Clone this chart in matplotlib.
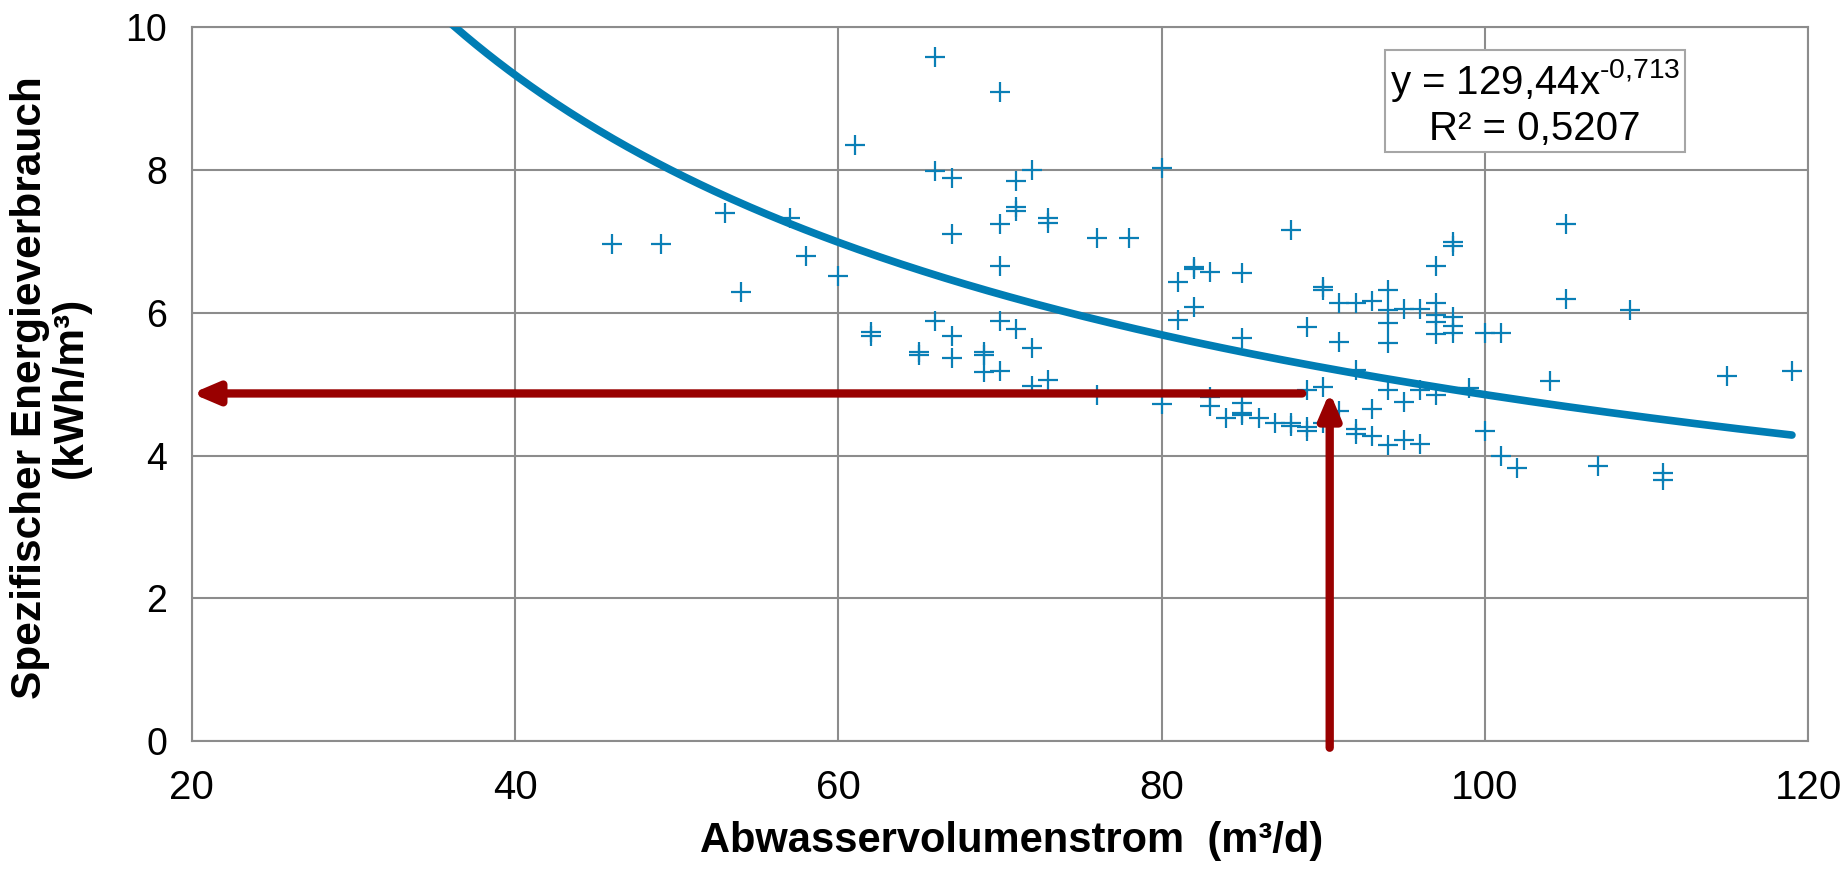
import numpy as np
import matplotlib
matplotlib.use("Agg")
import matplotlib.pyplot as plt

# Messpunkte: Abwasservolumenstrom (m3/d) und spezifischer Energieverbrauch (kWh/m3)
flow = [46, 49, 53, 54, 57, 58, 60, 61, 62, 62,
        65, 65, 66, 66, 66, 67, 67, 67, 67, 69,
        69, 69, 70, 70, 70, 70, 70, 71, 71, 71,
        71, 72, 72, 72, 73, 73, 73, 76, 76, 78,
        80, 80, 81, 81, 82, 82, 82, 83, 83, 83,
        84, 85, 85, 85, 85, 85, 86, 87, 88, 88,
        88, 89, 89, 89, 89, 90, 90, 90, 90, 91,
        91, 91, 92, 92, 92, 92, 93, 93, 93, 94,
        94, 94, 94, 94, 94, 95, 95, 95, 96, 96,
        96, 97, 97, 97, 97, 97, 97, 98, 98, 98,
        98, 98, 99, 100, 100, 101, 101, 102, 104, 105,
        105, 107, 109, 111, 111, 115, 119]
energy = [6.96, 6.96, 7.40, 6.29, 7.32, 6.79, 6.52, 8.35, 5.73, 5.67,
          5.45, 5.41, 9.58, 7.99, 5.89, 7.88, 7.10, 5.68, 5.37, 5.45,
          5.41, 5.17, 9.09, 7.24, 6.66, 5.89, 5.19, 7.85, 7.48, 7.43,
          5.77, 8.00, 5.50, 4.97, 7.32, 7.26, 5.06, 7.05, 4.85, 7.05,
          8.02, 4.72, 6.43, 5.90, 6.64, 6.61, 6.08, 6.57, 4.82, 4.69,
          4.53, 6.55, 5.65, 4.74, 4.59, 4.57, 4.53, 4.46, 7.16, 4.46,
          4.41, 5.80, 4.92, 4.40, 4.35, 6.36, 6.32, 4.96, 4.45, 6.13,
          5.59, 4.62, 6.14, 5.20, 4.37, 4.30, 6.17, 4.65, 4.27, 6.32,
          6.04, 5.86, 5.57, 4.92, 4.15, 6.05, 4.75, 4.22, 6.05, 4.92,
          4.16, 6.66, 6.14, 5.97, 5.87, 5.70, 4.85, 6.99, 6.94, 5.94,
          5.82, 5.71, 4.94, 5.72, 4.35, 5.71, 3.99, 3.82, 5.05, 7.24,
          6.19, 3.85, 6.04, 3.75, 3.66, 5.11, 5.19]

# Potenz-Trendlinie (aus Excel)
FIT_A = 129.44
FIT_B = -0.713
fit_x_end = 119

# Ablesepfeile
read_flow = 90.4
read_energy = 4.87
arrow_h_start = 88.7

xticks = [20, 40, 60, 80, 100, 120]
yticks = [0, 2, 4, 6, 8, 10]

blue = "#0A7FB6"
red = "#990000"
grid_col = "#8C8C8C"
font = ["Liberation Sans", "DejaVu Sans"]

plt.rcParams["mathtext.fontset"] = "custom"
plt.rcParams["mathtext.rm"] = "Liberation Sans"
plt.rcParams["mathtext.it"] = "Liberation Sans"

fig = plt.figure(figsize=(18.45, 8.8), dpi=100)
ax = fig.add_axes([0.104, 0.1576, 0.876, 0.8117])

ax.plot(flow, energy, linestyle="none", marker="+", markersize=14,
        markeredgewidth=1.6, color=blue, zorder=3)

xs = np.linspace(30, fit_x_end, 400)
ax.plot(xs, FIT_A * xs ** FIT_B, color="#007DB4", lw=5.5,
        solid_capstyle="round", zorder=4)

arrow_style = dict(arrowstyle="-|>,head_length=0.75,head_width=0.32",
                   color=red, lw=6, shrinkA=0, shrinkB=0, mutation_scale=20)
ax.annotate("", xy=(20, read_energy), xytext=(arrow_h_start, read_energy),
            arrowprops=arrow_style, annotation_clip=False, zorder=6)
ax.annotate("", xy=(read_flow, read_energy + 0.02), xytext=(read_flow, -0.09),
            arrowprops=arrow_style, annotation_clip=False, zorder=6)

ax.text(103.1, 8.95, "y = 129,44x$^{\\text{-0,713}}$\nR² = 0,5207",
        ha="center", va="center", fontsize=29, family=font,
        linespacing=1.2, zorder=7,
        bbox=dict(boxstyle="square,pad=0.12", fc="white",
                  ec="#A6A6A6", lw=1.5))

ax.set_xlim(20, 120)
ax.set_ylim(0, 10)
ax.set_xticks(xticks)
ax.set_yticks(yticks)
ax.grid(True, color=grid_col, lw=1.5, zorder=0)
ax.set_axisbelow(True)
for s in ax.spines.values():
    s.set_color(grid_col)
    s.set_linewidth(1.5)
ax.tick_params(length=0, labelsize=27)
ax.tick_params(axis="x", labelsize=29, pad=20)
ax.tick_params(axis="y", pad=18)
for lab in ax.get_xticklabels() + ax.get_yticklabels():
    lab.set_family(font)

ax.set_xlabel("Abwasservolumenstrom  (m³/d)", fontsize=30,
              fontweight="bold", family=font, va="center")
ax.xaxis.set_label_coords(0.507, -0.14)
ax.set_ylabel("Spezifischer Energieverbrauch\n(kWh/m³)", fontsize=30.5,
              fontweight="bold", family=font, va="center",
              linespacing=1.03)
ax.yaxis.set_label_coords(-0.0875, 0.495)

fig.savefig("out.png", dpi=100)
